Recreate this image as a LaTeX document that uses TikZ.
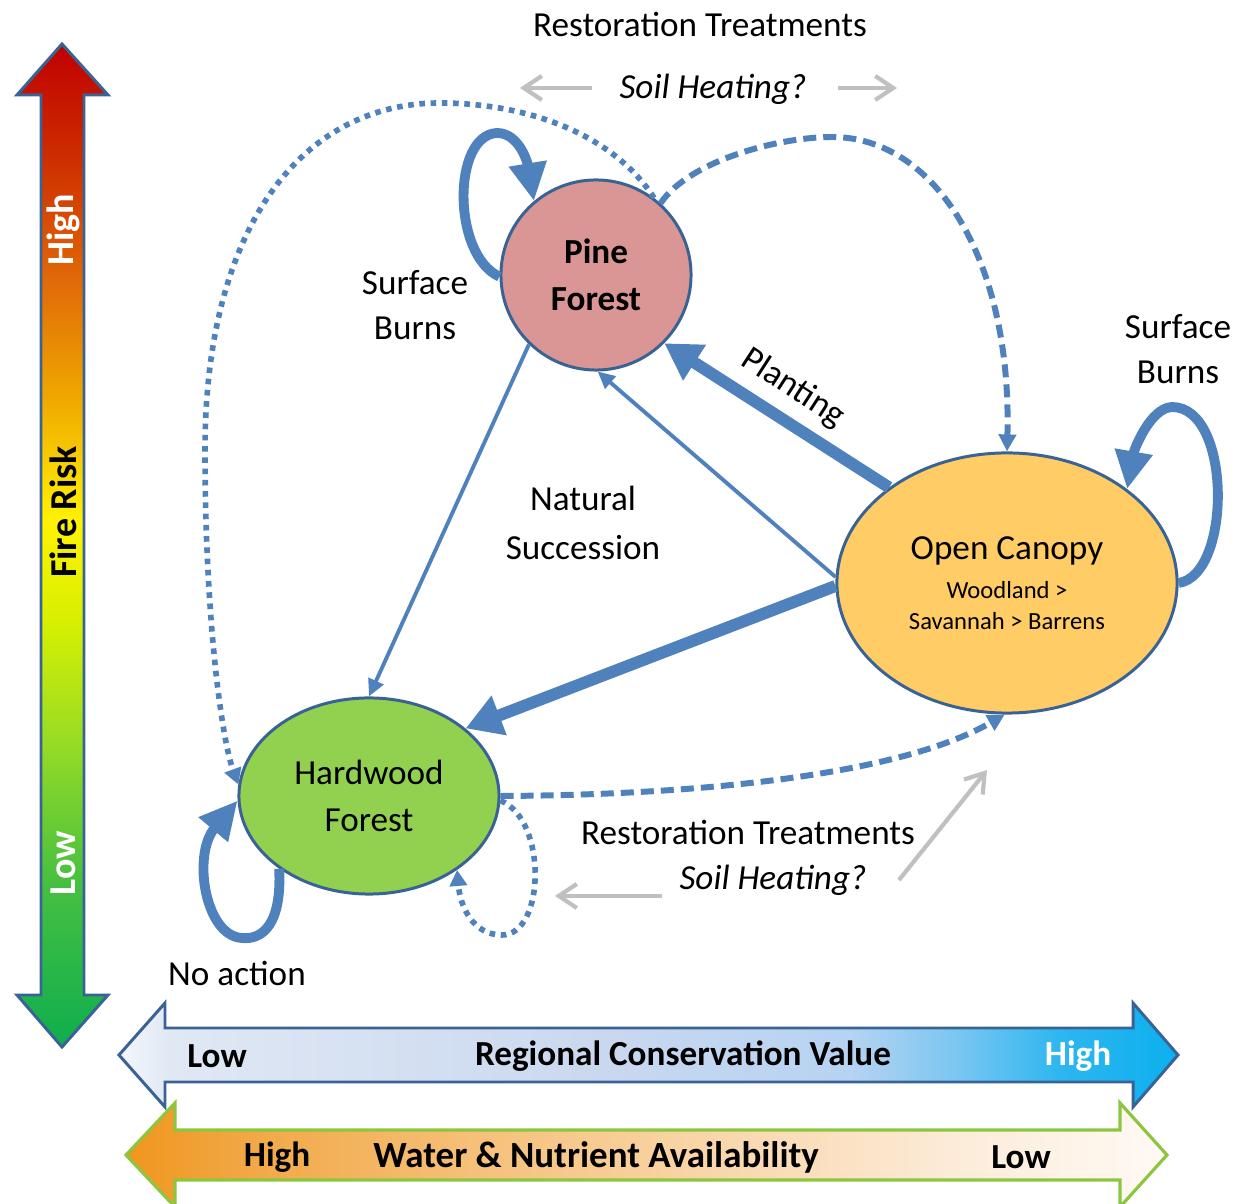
\documentclass[tikz,border=0pt]{standalone}
\usepackage{fontspec}
\setmainfont{Carlito}
\usetikzlibrary{arrows.meta,shapes.geometric}

\definecolor{flow}{HTML}{4F81BD}
\definecolor{rim}{HTML}{3A6395}
\definecolor{hint}{HTML}{C0C0C0}
\definecolor{pinefill}{HTML}{DA9694}
\definecolor{openfill}{HTML}{FFCC66}
\definecolor{hardfill}{HTML}{92D050}
\definecolor{nutrim}{HTML}{8CC63F}

\definecolor{fr1}{HTML}{0EAE4E}
\definecolor{fr2}{HTML}{48C040}
\definecolor{fr3}{HTML}{98DC24}
\definecolor{fr4}{HTML}{D8F000}
\definecolor{fr5}{HTML}{FFF200}
\definecolor{fr6}{HTML}{F0A800}
\definecolor{fr7}{HTML}{E06A08}
\definecolor{fr8}{HTML}{CC2A00}
\definecolor{fr9}{HTML}{C00000}
\pgfdeclareverticalshading{firerisk}{100bp}{color(0bp)=(fr1); color(25bp)=(fr1);
  color(33.3bp)=(fr2); color(40.3bp)=(fr3); color(46.3bp)=(fr4); color(51.3bp)=(fr5);
  color(57.3bp)=(fr6); color(63.2bp)=(fr7); color(69.7bp)=(fr8); color(75bp)=(fr9); color(100bp)=(fr9)}

\definecolor{cv1}{HTML}{F4F7FC}
\definecolor{cv2}{HTML}{E0E8F4}
\definecolor{cv3}{HTML}{CAD8EF}
\definecolor{cv4}{HTML}{B6D3F2}
\definecolor{cv5}{HTML}{78C6F1}
\definecolor{cv6}{HTML}{2EB6F0}
\definecolor{cv7}{HTML}{0BB0EE}
\pgfdeclarehorizontalshading{consvalue}{100bp}{color(0bp)=(cv1); color(25bp)=(cv1);
  color(27.4bp)=(cv2); color(47.7bp)=(cv3); color(59.5bp)=(cv4); color(64.7bp)=(cv5);
  color(69.4bp)=(cv6); color(75bp)=(cv7); color(100bp)=(cv7)}

\definecolor{nu1}{HTML}{F0961E}
\definecolor{nu2}{HTML}{F2A846}
\definecolor{nu3}{HTML}{F5BE74}
\definecolor{nu4}{HTML}{F9D5A8}
\definecolor{nu5}{HTML}{FCEBD8}
\definecolor{nu6}{HTML}{FFFAF5}
\pgfdeclarehorizontalshading{nutrients}{100bp}{color(0bp)=(nu1); color(25bp)=(nu1);
  color(31bp)=(nu2); color(40.6bp)=(nu3); color(52.5bp)=(nu4); color(64.6bp)=(nu5);
  color(75bp)=(nu6); color(100bp)=(nu6)}

\begin{document}
\begin{tikzpicture}[x=0.01cm, y=-0.01cm,
    state/.style={draw=rim, line width=0.85pt, inner sep=0pt, align=center, font=\fontsize{10}{13.4}\selectfont},
    lbl/.style={align=center, font=\fontsize{10}{13}\selectfont},
    slant/.style={font=\itshape\fontsize{10}{13}\selectfont},
    barlbl/.style={font=\bfseries\fontsize{10}{12}\selectfont, inner sep=0pt},
    bigflow/.style={draw=flow, line width=3.4pt, -{Triangle[length=0.36cm, width=0.4cm]}},
    thinflow/.style={draw=flow, line width=1.1pt, -{Triangle[length=0.17cm, width=0.16cm]}},
    loopflow/.style={draw=flow, line width=2.8pt, -{Triangle[length=0.38cm, width=0.36cm]}},
    dashflow/.style={draw=flow, line width=1.7pt, dash pattern=on 3.7pt off 2pt, -{Triangle[length=0.17cm, width=0.17cm]}},
    dotflow/.style={draw=flow, line width=1.6pt, dash pattern=on 1.6pt off 1.6pt, -{Triangle[length=0.16cm, width=0.17cm]}},
    hintarrow/.style={draw=hint, line width=1.2pt, -{Straight Barb[length=0.18cm, width=0.24cm]}}]
\useasboundingbox (0,0) rectangle (1251,1204);

% fire risk scale
\shadedraw[shading=firerisk, draw=rim, line width=0.85pt]
  (62,44) -- (108,95) -- (84,95) -- (84,995) -- (108,995) -- (62,1047)
  -- (17,995) -- (41,995) -- (41,95) -- (17,95) -- cycle;
\node[barlbl, rotate=90, white, font=\bfseries\fontsize{10.8}{13}\selectfont] (riskhigh) at (63,230) {High};
\node[barlbl, rotate=90, font=\bfseries\fontsize{10.8}{13}\selectfont] (risk) at (63,512) {Fire Risk};
\node[barlbl, rotate=90, white, font=\bfseries\fontsize{10.8}{13}\selectfont] (risklow) at (63,863) {Low};

% conservation value scale
\shadedraw[shading=consvalue, draw=rim, line width=0.85pt]
  (119,1055) -- (165,1003) -- (165,1028) -- (1133,1028) -- (1133,1003) -- (1178,1055)
  -- (1133,1107) -- (1133,1082) -- (165,1082) -- (165,1107) -- cycle;
\node[barlbl] (cvlow) at (217,1056) {Low};
\node[barlbl] (cv) at (683,1056) {Regional Conservation Value};
\node[barlbl, white] (cvhigh) at (1078,1056) {High};

% water and nutrient scale
\shadedraw[shading=nutrients, draw=nutrim, line width=0.9pt]
  (126,1155) -- (175,1103) -- (175,1130) -- (1120,1130) -- (1120,1103) -- (1167,1155)
  -- (1120,1207) -- (1120,1180) -- (175,1180) -- (175,1207) -- cycle;
\node[barlbl] (nuhigh) at (277,1157) {High};
\node[barlbl, font=\bfseries\fontsize{10.5}{12}\selectfont] (nu) at (596,1157) {Water \& Nutrient Availability};
\node[barlbl] (nulow) at (1021,1157) {Low};

% states
\node[state, circle, fill=pinefill, minimum size=1.9cm, font=\bfseries\fontsize{10}{13.4}\selectfont] (pine) at (596,275) {Pine\\Forest};
\node[state, ellipse, fill=openfill, minimum width=3.4cm, minimum height=2.6cm] (open) at (1007,583)
  {Open Canopy\\[-2.3pt]{\fontsize{7}{8.8}\selectfont Woodland >}\\[-4.6pt]{\fontsize{7}{8.8}\selectfont Savannah > Barrens}};
\node[state, ellipse, fill=hardfill, minimum width=2.6cm, minimum height=1.96cm] (hard) at (369,796) {Hardwood\\Forest};

% labels
\node[lbl] (resttop) at (700,24) {Restoration Treatments};
\node[slant] (soiltop) at (713,89) {Soil Heating?};
\node[lbl] (burnpine) at (415,305) {Surface\\Burns};
\node[lbl] (burnopen) at (1178,349) {Surface\\Burns};
\node[lbl, font=\fontsize{10}{14}\selectfont] (succ) at (583,523) {Natural\\Succession};
\node[lbl, rotate=-33] (plant) at (793,388) {Planting};
\node[lbl] (restlow) at (748,832) {Restoration Treatments};
\node[slant] (soillow) at (773,880) {Soil Heating?};
\node[lbl] (noact) at (237,973) {No action};

% transitions
\draw[bigflow] (open.141) -- (pine.-45);
\draw[thinflow] (open.178) -- (pine.-89);
\draw[thinflow] (pine.-134) -- (hard.90);
\draw[bigflow] (open.181) -- (hard.35);

\draw[loopflow] (pine.181) .. controls (452,255) and (452,135) .. (497,133) .. controls (520,133) and (528,165) .. (pine.130);
\draw[loopflow] (open.east) .. controls (1232,575) and (1232,407) .. (1172,407) .. controls (1150,408) and (1134,450) .. (open.38);
\draw[loopflow] (hard.-141) .. controls (282,925) and (262,940) .. (242,938) .. controls (205,936) and (192,855) .. (hard.182);

\draw[dotflow] (pine.53) .. controls (610,130) and (520,103) .. (440,103) .. controls (300,103) and (205,230) .. (205,450)
  .. controls (205,620) and (222,740) .. (hard.175);
\draw[dashflow] (pine.48) .. controls (690,160) and (780,137) .. (832,137) .. controls (935,137) and (1012,260) .. (open.north);
\draw[dashflow] (hard.east) .. controls (700,795) and (900,775) .. (open.-91);
\draw[dotflow] (hard.-2) .. controls (548,820) and (545,935) .. (502,935) .. controls (472,935) and (460,905) .. (hard.-40);

% soil heating hints
\coordinate (hintA) at (592,88);
\coordinate (hintB) at (520,88);
\coordinate (hintC) at (838,88);
\coordinate (hintD) at (897,88);
\coordinate (hintE) at (662,896);
\coordinate (hintF) at (555,896);
\coordinate (hintG) at (899,880);
\coordinate (hintH) at (987,770);
\draw[hintarrow] (hintA) -- (hintB);
\draw[hintarrow] (hintC) -- (hintD);
\draw[hintarrow] (hintE) -- (hintF);
\draw[hintarrow] (hintG) -- (hintH);
\end{tikzpicture}
\end{document}
